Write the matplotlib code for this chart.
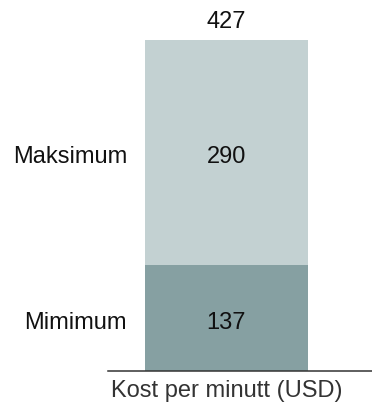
import matplotlib
matplotlib.use("Agg")
import matplotlib.pyplot as plt
from matplotlib.transforms import offset_copy

categories = ["Mimimum", "Maksimum"]
values = [137, 290]
total_label = "427"
xlabel = "Kost per minutt (USD)"
colors = ["#86a0a2", "#c3d1d2"]

plt.rcParams['font.family'] = ['Liberation Sans', 'DejaVu Sans']
W, H = 372, 407
fig = plt.figure(figsize=(W / 100, H / 100), dpi=100)
ax = fig.add_axes([108 / W, 1 - 370.7 / H, 264 / W, (370.7 - 40) / H])

xc = (226.5 - 108) / 264
bw = 163 / 264
down = offset_copy(ax.transData, fig=fig, x=0, y=-3.5, units='points')
bottom = 0
for cat, v, c in zip(categories, values, colors):
    ax.bar(xc, v, width=bw, bottom=bottom, color=c, linewidth=0)
    ax.text(xc, bottom + v / 2, str(v), ha='center', va='center', fontsize=17,
            color='#111111', transform=down)
    ax.text((127 - 108) / 264, bottom + v / 2, cat, ha='right', va='center', fontsize=17,
            color='#111111', transform=offset_copy(ax.transData, fig=fig, x=0, y=-3.5, units='points'))
    bottom += v
total = sum(values)
ax.annotate(total_label, (xc, total), xytext=(0, 5), textcoords='offset points',
            ha='center', va='bottom', fontsize=17, color='#111111')

ax.set_xlim(0, 1)
ax.set_ylim(0, total)
for s in ['top', 'right', 'left']:
    ax.spines[s].set_visible(False)
ax.spines['bottom'].set_color('#333333')
ax.spines['bottom'].set_linewidth(1.1)
ax.set_xticks([])
ax.set_yticks([])
ax.text(xc, 0, xlabel, transform=offset_copy(ax.transData, fig=fig, x=0, y=-7, units='points'),
        ha='center', va='top', fontsize=17, color='#333333')
ax.set_facecolor('none')
fig.savefig("out.png", dpi=100, facecolor='white')
